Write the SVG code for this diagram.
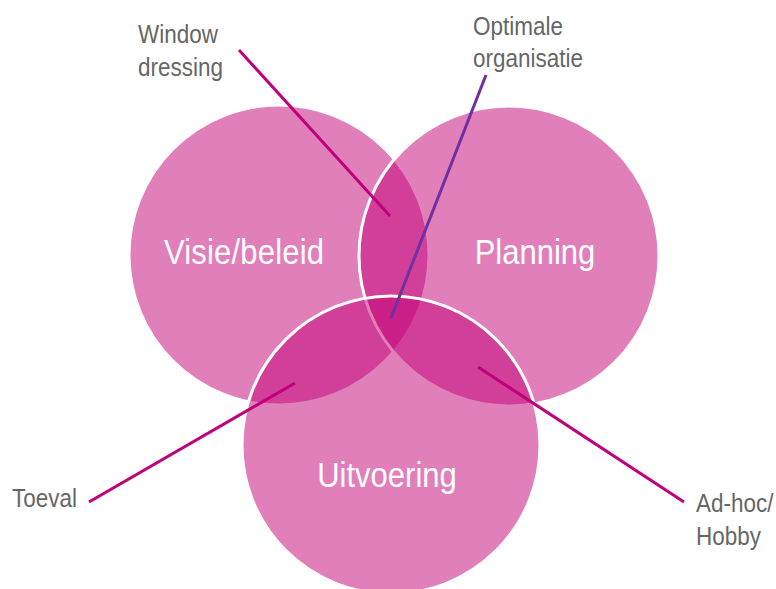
<svg xmlns="http://www.w3.org/2000/svg" width="776" height="589" viewBox="0 0 776 589">
  <style>
    .set { fill: #C10075; fill-opacity: 0.5; stroke: #FFFFFF; stroke-width: 3; }
    .set-label { font-family: "Liberation Sans", Arial, sans-serif; font-size: 31px; fill: #FFFFFF; text-anchor: middle; }
    .callout { font-family: "Liberation Sans", Arial, sans-serif; font-size: 22.5px; fill: #666666; }
    .leader { stroke: #C0007A; stroke-width: 3; fill: none; }
    .leader-purple { stroke: #7030A0; stroke-width: 3; fill: none; }
  </style>
  <rect width="776" height="589" fill="#FFFFFF"/>

  <!-- Three overlapping sets -->
  <g id="visie-beleid">
    <circle class="set" cx="279" cy="255" r="150"/>
  </g>
  <g id="planning">
    <circle class="set" cx="509" cy="256" r="150"/>
  </g>
  <g id="uitvoering">
    <circle class="set" cx="391" cy="445" r="149"/>
  </g>

  <!-- Set labels (type is slightly tall-scaled) -->
  <g id="set-labels">
    <text class="set-label" transform="translate(244,264) scale(1,1.12)" textLength="160">Visie/beleid</text>
    <text class="set-label" transform="translate(535,264) scale(1,1.12)">Planning</text>
    <text class="set-label" transform="translate(387,487) scale(1,1.12)">Uitvoering</text>
  </g>

  <!-- Leader lines from callouts into the overlap regions -->
  <g id="connectors">
    <line class="leader" x1="239" y1="50" x2="390" y2="216"/>
    <line class="leader-purple" x1="486" y1="75" x2="391" y2="318"/>
    <line class="leader" x1="89" y1="502" x2="295" y2="383"/>
    <line class="leader" x1="478" y1="367" x2="684" y2="502"/>
  </g>

  <!-- Callout labels -->
  <g id="window-dressing">
    <text class="callout" transform="translate(138,43) scale(1,1.12)">Window</text>
    <text class="callout" transform="translate(138,76) scale(1,1.12)">dressing</text>
  </g>
  <g id="optimale-organisatie">
    <text class="callout" transform="translate(473,35) scale(1,1.12)">Optimale</text>
    <text class="callout" transform="translate(473,67) scale(1,1.12)">organisatie</text>
  </g>
  <g id="toeval">
    <text class="callout" transform="translate(12,507) scale(1,1.12)">Toeval</text>
  </g>
  <g id="ad-hoc-hobby">
    <text class="callout" transform="translate(696,512) scale(1,1.12)">Ad-hoc/</text>
    <text class="callout" transform="translate(696,545) scale(1,1.12)">Hobby</text>
  </g>
</svg>
